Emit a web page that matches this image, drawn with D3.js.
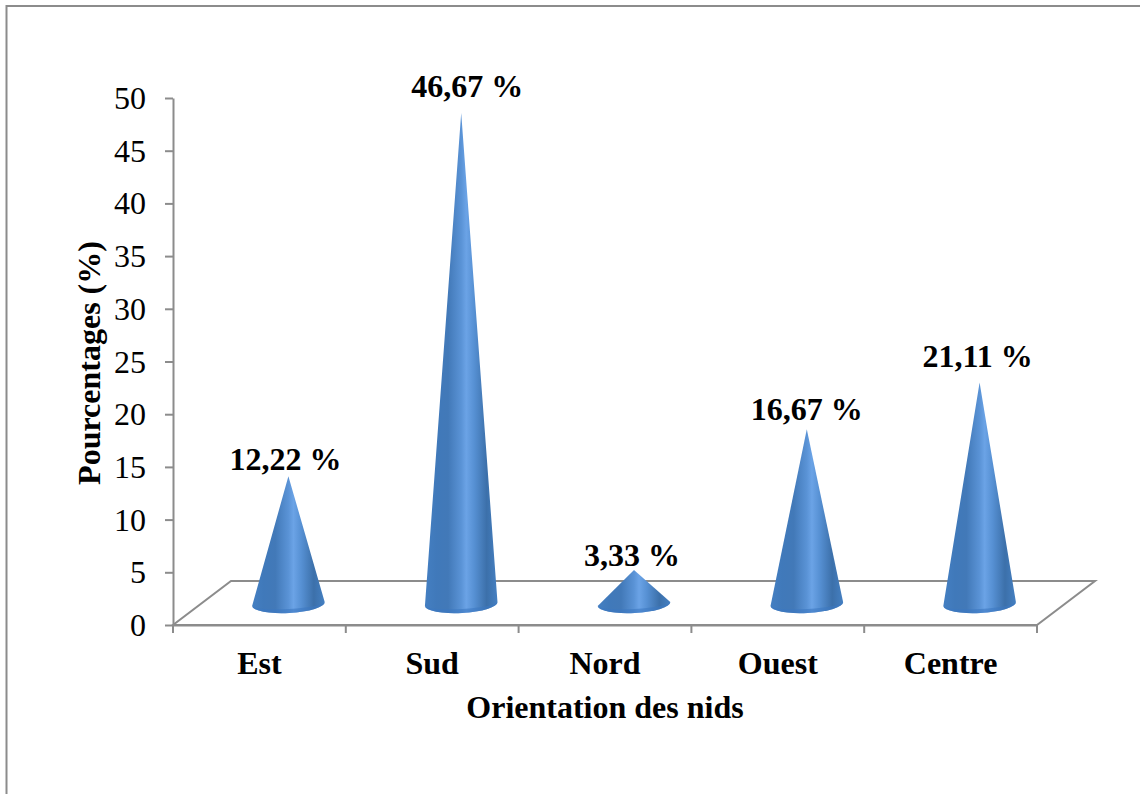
<!DOCTYPE html>
<html lang="fr">
<head>
<meta charset="utf-8">
<title>Orientation des nids</title>
<script src="https://cdn.jsdelivr.net/npm/d3@7/dist/d3.min.js"></script>
<style>
  html, body { margin: 0; padding: 0; background: #fff; }
  svg { display: block; font-family: "Liberation Serif", "Times New Roman", serif; }
  .axis path, .axis line { stroke: #8c8c8c; stroke-width: 2px; }
  .axis text { fill: #000; font-family: "Liberation Serif", "Times New Roman", serif; }
</style>
</head>
<body>
<svg id="chart" width="1140" height="794"></svg>
<script>
// Nest orientation shares, in percent
const orientations = ["Est", "Sud", "Nord", "Ouest", "Centre"];
const percentages = [12.22, 46.67, 3.33, 16.67, 21.11];
const valueLabels = ["12,22 %", "46,67 %", "3,33 %", "16,67 %", "21,11 %"];
const yTicks = [0, 5, 10, 15, 20, 25, 30, 35, 40, 45, 50];

// Manual placement of each value label, relative to its cone tip
const labelDx = [-3, 6, -2, 0, -2];
const labelDy = [-4, -14, -2, -7, -14];

const svg = d3.select("#chart");
const plot = { left: 173, right: 1037, top: 98, bottom: 625 };
const depth = { dx: 58, dy: 44 };          // oblique offset of the floor's back edge

const x = d3.scaleBand().domain(orientations).range([plot.left, plot.right]);
const y = d3.scaleLinear().domain([0, 50]).range([plot.bottom, plot.top]);

// Outer frame, open on the right and at the bottom of the page
svg.append("path")
  .attr("d", "M6.5,794V6H1140")
  .attr("fill", "none")
  .attr("stroke", "#8c8c8c")
  .attr("stroke-width", 2);

// Shaded surface of the cones: dark flanks around a bright central band
const defs = svg.append("defs");
const shade = defs.append("linearGradient").attr("id", "coneShade")
  .attr("x1", 0).attr("x2", 1).attr("y1", 0).attr("y2", 0);
[[0, "#447fc2"], [0.16, "#4079ba"], [0.32, "#4279b8"], [0.5, "#5a93d6"], [0.57, "#6ba3e6"],
 [0.68, "#5690d3"], [0.85, "#3c70aa"], [1, "#4580c2"]]
  .forEach(([o, c]) => shade.append("stop").attr("offset", o).attr("stop-color", c));

// Oblique floor of the chart
svg.append("path")
  .attr("d", d3.line()([
    [plot.left, plot.bottom], [plot.right, plot.bottom],
    [plot.right + depth.dx, plot.bottom - depth.dy],
    [plot.left + depth.dx, plot.bottom - depth.dy]
  ]) + "Z")
  .attr("fill", "none")
  .attr("stroke", "#8c8c8c")
  .attr("stroke-width", 2);

// Axes
const yAxis = d3.axisLeft(y).tickValues(yTicks).tickSize(8).tickPadding(19).tickSizeOuter(0);
svg.append("g").attr("class", "axis")
  .attr("transform", `translate(${plot.left},0)`)
  .call(yAxis)
  .call(g => g.selectAll("text").attr("font-size", 32).attr("dy", "0.33em"));

const xAxis = d3.axisBottom(x).tickSize(0).tickPadding(26);
const xg = svg.append("g").attr("class", "axis")
  .attr("transform", `translate(0,${plot.bottom})`)
  .call(xAxis);
xg.selectAll("text").attr("font-size", 32).attr("font-weight", "bold");
xg.selectAll(".tick line").remove();
// Category separators sit on the band edges
xg.selectAll("line.sep")
  .data(orientations.map(d => x(d)).concat(plot.right))
  .join("line")
  .attr("class", "sep")
  .attr("x1", d => d).attr("x2", d => d)
  .attr("y1", 0).attr("y2", 8)
  .attr("stroke", "#8c8c8c");

// Cones stand in the middle of the floor's depth
const midDx = depth.dx / 2, midDy = depth.dy / 2;
const halfWidth = x.bandwidth() * 0.21;
const tilt = 2;
const rise = 9;

const cones = svg.append("g").selectAll("g")
  .data(orientations.map((name, i) => ({
    name, value: percentages[i], label: valueLabels[i], ldx: labelDx[i], ldy: labelDy[i]
  })))
  .join("g");

cones.append("path")
  .attr("fill", "url(#coneShade)")
  .attr("d", d => {
    const cx = x(d.name) + x.bandwidth() / 2 + midDx;
    const by = plot.bottom - midDy + 1;
    const tipY = y(d.value) - midDy + 2;
    return `M${cx},${tipY}L${cx + halfWidth},${by - tilt}` +
      `A${halfWidth},${rise} -3 0 1 ${cx - halfWidth},${by + tilt}Z`;
  });

// Slightly deeper blue along the visible lower edge of the base, kept inside the cone
cones.append("path")
  .attr("fill", "#3c78c2")
  .attr("fill-opacity", 0.6)
  .attr("d", d => {
    const cx = x(d.name) + x.bandwidth() / 2 + midDx;
    const by = plot.bottom - midDy + 1;
    return `M${cx + halfWidth},${by - tilt}` +
      `A${halfWidth},${rise} -3 0 1 ${cx - halfWidth},${by + tilt}` +
      `A${halfWidth},${rise - 4} -3 0 0 ${cx + halfWidth},${by - tilt}Z`;
  });

cones.append("text")
  .attr("x", d => x(d.name) + x.bandwidth() / 2 + midDx + d.ldx)
  .attr("y", d => y(d.value) - midDy + d.ldy)
  .attr("text-anchor", "middle")
  .attr("font-size", 32)
  .attr("font-weight", "bold")
  .text(d => d.label);

// Axis titles
svg.append("text")
  .attr("x", 605).attr("y", 718)
  .attr("text-anchor", "middle")
  .attr("font-size", 32).attr("font-weight", "bold")
  .text("Orientation des nids");

svg.append("text")
  .attr("transform", "translate(100,363) rotate(-90)")
  .attr("text-anchor", "middle")
  .attr("font-size", 32).attr("font-weight", "bold")
  .text("Pourcentages (%)");
</script>
</body>
</html>
